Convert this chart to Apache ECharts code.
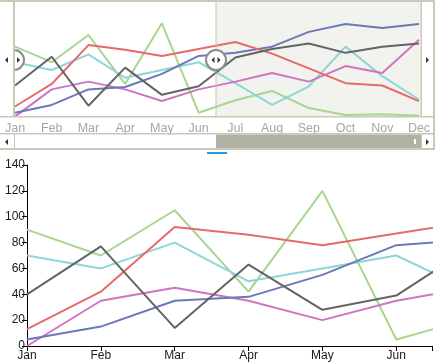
<!DOCTYPE html>
<html><head><meta charset="utf-8">
<script src="https://cdn.jsdelivr.net/npm/echarts@6/dist/echarts.min.js"></script>
<style>html,body{margin:0;padding:0;background:#fff}#c{width:435px;height:364px}</style>
</head><body><div id="c"></div>
<script>
const months = ['Jan','Feb','Mar','Apr','May','Jun','Jul','Aug','Sep','Oct','Nov','Dec'];
const seriesGreen = [90, 70, 105, 42, 120, 5, 21, 33, 11, 2, 3, 1];
const seriesCyan  = [70, 60, 80, 50, 60, 70, 43, 15, 39, 90, 52, 22];
const seriesPink  = [0, 35, 45, 35, 20, 35, 45, 56, 45, 65, 56, 99];
const seriesBlue  = [5, 15, 35, 38, 55, 78, 82, 90, 109, 119, 114, 119];
const seriesRed   = [13, 42, 92, 86, 78, 87, 96, 81, 62, 43, 40, 20];
const seriesGray  = [40, 77, 14, 63, 28, 39, 76, 87, 94, 82, 90, 94];

const allSeries = [
  {name:'S1', data: seriesGreen, color:'#a8d590'},
  {name:'S2', data: seriesCyan,  color:'#8dd6d6'},
  {name:'S3', data: seriesPink,  color:'#d074c2'},
  {name:'S4', data: seriesBlue,  color:'#6c79b6'},
  {name:'S5', data: seriesRed,   color:'#e8696b'},
  {name:'S6', data: seriesGray,  color:'#646464'}
];

const FONT = 'Liberation Sans';
const BEIGE = '#c9c9b8';
const chart = echarts.init(document.getElementById('c'));

const series = [];
allSeries.forEach(s => {
  const pts = s.data.map((v, i) => [i, v]);
  series.push({type:'line', name:s.name, xAxisIndex:0, yAxisIndex:0, data:pts, symbol:'none',
    lineStyle:{color:s.color, width:2}, itemStyle:{color:s.color}, z:5});
  series.push({type:'line', name:s.name, xAxisIndex:1, yAxisIndex:1, data:pts, symbol:'none',
    lineStyle:{color:s.color, width:2}, itemStyle:{color:s.color}, z:5});
});

function tri(x, y, dir, color) {
  const w = 3, h = 3;
  const pts = dir === 'left' ? [[x + w/2, y - h], [x + w/2, y + h], [x - w/2, y]]
                             : [[x - w/2, y - h], [x - w/2, y + h], [x + w/2, y]];
  return {type:'polygon', shape:{points:pts}, style:{fill:color || '#333'}, z:120};
}

const graphics = [
  // shaded region (outside selection)
  {type:'rect', shape:{x:216, y:2, width:205, height:115}, style:{fill:'#f2f2ee'}, z:0},
  // borders
  {type:'rect', shape:{x:0, y:0, width:435, height:2}, style:{fill:BEIGE}, z:100},
  {type:'rect', shape:{x:433, y:0, width:2, height:150}, style:{fill:BEIGE}, z:100},
  {type:'rect', shape:{x:420.5, y:0, width:1.5, height:117}, style:{fill:BEIGE}, z:100},
  {type:'rect', shape:{x:0, y:116, width:435, height:1.5}, style:{fill:BEIGE}, z:100},
  {type:'rect', shape:{x:0, y:133, width:435, height:1.5}, style:{fill:BEIGE}, z:100},
  {type:'rect', shape:{x:0, y:148, width:435, height:2}, style:{fill:BEIGE}, z:100},
  // selection right edge line
  {type:'rect', shape:{x:215.5, y:2, width:1, height:115}, style:{fill:'#c4c4b4'}, z:100},
  // scrollbar
  {type:'rect', shape:{x:216, y:134.5, width:205, height:13.5}, style:{fill:'#b1b2a3'}, z:100},
  {type:'rect', shape:{x:14, y:134.5, width:1, height:13.5}, style:{fill:BEIGE}, z:100},
  {type:'rect', shape:{x:421, y:134.5, width:1, height:13.5}, style:{fill:BEIGE}, z:100},
  {type:'rect', shape:{x:414, y:139, width:2, height:5}, style:{fill:'#ffffff'}, z:110},
  tri(6.5, 142, 'left'), tri(427.5, 142, 'right'),
  // right white margin arrow in navigator
  tri(427.5, 60, 'right'),
  // left handle (half circle, left half covered)
  {type:'circle', shape:{cx:14, cy:60, r:10}, style:{fill:'#fff', stroke:'#8c8c8c', lineWidth:2}, z:101},
  {type:'rect', shape:{x:0, y:2, width:13, height:114}, style:{fill:'#fff'}, z:102},
  {type:'rect', shape:{x:13, y:0, width:2, height:117}, style:{fill:BEIGE}, z:103},
  tri(6.5, 60, 'left'), tri(18.5, 60, 'right'),
  // right handle
  {type:'circle', shape:{cx:216, cy:60, r:10}, style:{fill:'#fff', stroke:'#8c8c8c', lineWidth:2}, z:110},
  tri(213, 60, 'left'), tri(219, 60, 'right'),
  // blue indicator
  {type:'rect', shape:{x:207, y:152, width:20, height:2}, style:{fill:'#2a9ad8'}, z:100}
];

chart.setOption({
  animation:false,
  backgroundColor:'#fff',
  grid:[
    {left:15, top:0, width:404, height:116.6},
    {left:27, top:165, width:408, height:181}
  ],
  xAxis:[
    {gridIndex:0, type:'value', min:0, max:11, interval:1,
     axisLine:{show:false}, axisTick:{show:false}, splitLine:{show:false},
     axisLabel:{margin:5, color:'#a6a6a6', fontFamily:FONT, fontSize:12.5,
       formatter:v => months[v] || ''}},
    {gridIndex:1, type:'value', min:0, max:5.484, interval:1,
     axisLine:{show:true, lineStyle:{color:'#000', width:1}},
     axisTick:{show:true, length:5, lineStyle:{color:'#000'}},
     splitLine:{show:false}, showMaxLabel:false,
     axisLabel:{margin:4, color:'#1a1a1a', fontFamily:FONT, fontSize:12,
       formatter:v => (Number.isInteger(v) ? months[v] : '')}}
  ],
  yAxis:[
    {gridIndex:0, type:'value', min:0, max:150, show:false, splitLine:{show:false}},
    {gridIndex:1, type:'value', min:0, max:140, interval:20,
     axisLine:{show:true, lineStyle:{color:'#000', width:1}},
     axisTick:{show:true, length:5, lineStyle:{color:'#000'}},
     splitLine:{show:false},
     axisLabel:{margin:2, color:'#1a1a1a', fontFamily:FONT, fontSize:12}}
  ],
  graphic: graphics,
  series: series
});
</script></body></html>
